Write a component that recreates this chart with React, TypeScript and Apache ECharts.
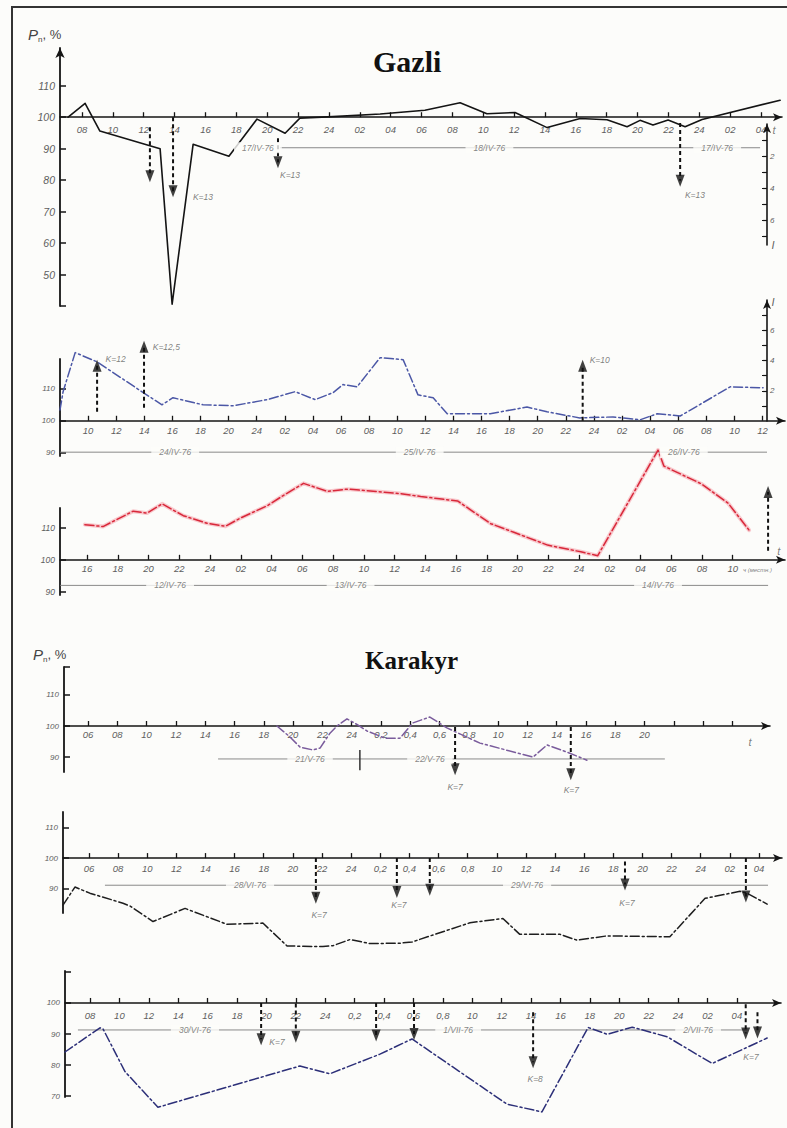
import React, { useEffect, useRef } from "react";
import * as echarts from "echarts";

// ================= DATA =================
// x values are positions on each panel's time axis, in tick steps (tick i = label i)

// ---- Gazli, panel 1 (black) ----
const g1Ticks = ["08","10","12","14","16","18","20","22","24","02","04","06","08","10","12","14","16","18","20","22","24","02","04"];
const g1Time = [-0.45, 0.10, 0.58, 2.53, 2.92, 3.60, 4.76, 5.67, 6.58, 7.06, 8.13, 9.66, 11.11, 12.25, 13.12, 14.03, 15.07, 16.14, 17.01, 17.66, 18.08, 18.5, 18.99, 19.54, 20.09, 22.62];
const g1P = [100, 104.4, 95.6, 90, 40.6, 91.4, 87.6, 99.4, 94.9, 99.7, 100.2, 101.0, 102.2, 104.6, 101.1, 101.5, 96.7, 99.6, 99.2, 97.0, 99.0, 97.5, 99.1, 97.0, 99.3, 105.4];
const g1YTicks = [40, 50, 60, 70, 80, 90, 100, 110];
const g1YLabels = [50, 60, 70, 80, 90, 100, 110];
const g1ITicks = [1, 2, 3, 4, 5, 6, 7];
const g1ILabels = [2, 4, 6];
const g1ArrowT = [2.2, 2.95, 6.35, 19.38];
const g1ArrowFrom = [96.8, 100, 93.3, 98.2];
const g1ArrowHead = [81.2, 76.5, 85.7, 79.8];
const g1K = ["K=13", "K=13", "K=13"];
const g1KT = [3.92, 6.74, 19.86];
const g1KP = [74.6, 81.6, 75.4];
const g1Dates = ["17/IV-76", "18/IV-76", "17/IV-76"];
const g1DateT = [5.7, 13.2, 20.58];
const g1DateSpan = [6.42, 21.97];
const g1DateP = 90.3;

// ---- Gazli, panel 2 (blue) ----
const g2Ticks = ["10","12","14","16","18","20","24","02","04","06","08","10","12","14","16","18","20","22","24","02","04","06","08","10","12"];
const g2Time = [-1.0, -0.89, -0.46, 0.32, 1.96, 2.63, 3.02, 4.09, 5.16, 6.37, 7.37, 8.08, 8.72, 9.07, 9.57, 10.39, 11.21, 11.74, 12.28, 12.78, 13.35, 14.31, 15.62, 16.33, 17.5, 18.68, 19.64, 20.25, 21.07, 22.85, 24.02];
const g2P = [103.4, 109.1, 121.3, 118.4, 108.8, 105, 107.2, 105, 104.7, 106.6, 109.1, 106.6, 108.8, 111.3, 110.6, 119.7, 119.1, 108.1, 107.2, 102.2, 102.2, 102.2, 104.3, 102.8, 100.9, 101.2, 100.3, 102.2, 101.5, 110.6, 110.3];
const g2YTicks = [90, 100, 110];
const g2ITicks = [1, 2, 3, 4, 5, 6, 7];
const g2ILabels = [2, 4, 6];
const g2ArrowT = [0.32, 1.99, 17.6];
const g2ArrowFrom = [102.8, 104.1, 100];
const g2ArrowHead = [117.2, 123.1, 117.2];
const g2K = ["K=12", "K=12,5", "K=10"];
const g2KT = [0.62, 2.3, 17.85];
const g2KP = [119.4, 123.1, 119];
const g2Dates = ["24/IV-76", "25/IV-76", "26/IV-76"];
const g2DateT = [3.1, 11.8, 21.2];
const g2DateSpan = [-1.0, 24.16];
const g2DateP = 90.2;

// ---- Gazli, panel 3 (red) ----
const g3Ticks = ["16","18","20","22","24","02","04","06","08","10","12","14","16","18","20","22","24","02","04","06","08","10"];
const g3Time = [-0.07, 0.52, 1.50, 1.95, 2.44, 3.13, 3.91, 4.5, 4.98, 5.86, 6.38, 7.04, 7.82, 8.47, 9.12, 10.2, 10.85, 12.05, 13.13, 13.88, 14.98, 16.06, 16.61, 18.57, 18.76, 19.97, 20.85, 21.53];
const g3P = [111.0, 110.4, 115.2, 114.6, 117.5, 113.8, 111.4, 110.5, 113, 116.9, 120.1, 123.9, 121.4, 122.1, 121.6, 120.7, 119.8, 118.4, 111.3, 108.6, 104.6, 102.5, 101.3, 134.3, 129.3, 123.8, 117.7, 109.3];
const g3YTicks = [90, 100, 110];
const g3ArrowT = [22.15];
const g3ArrowFrom = [102.8];
const g3ArrowHead = [121.2];
const g3Dates = ["12/IV-76", "13/IV-76", "14/IV-76"];
const g3DateT = [2.7, 8.57, 18.57];
const g3DateSpan = [-0.88, 22.15];
const g3DateP = 92;

// ---- Karakyr, panel 4 (purple) ----
const k1Ticks = ["06","08","10","12","14","16","18","20","22","24","0,2","0,4","0,6","0,8","10","12","14","16","18","20","","",""];
const k1Time = [6.45, 6.89, 7.24, 7.68, 7.92, 8.26, 8.5, 8.84, 9.22, 9.52, 10.14, 10.65, 11.09, 11.67, 12.25, 13.38, 15.19, 15.67, 16.35, 17.03];
const k1P = [100, 96.5, 93.2, 92.3, 92.9, 97.7, 100, 102.3, 100.3, 98.4, 96.1, 96.1, 101, 102.9, 99.4, 94.5, 90, 93.9, 91.6, 89];
const k1YTicks = [90, 100, 110, 119];
const k1YLabels = [90, 100, 110];
const k1ArrowT = [12.53, 16.48];
const k1ArrowFrom = [99.7, 99.7];
const k1ArrowHead = [86.1, 84.5];
const k1K = ["K=7", "K=7"];
const k1KT = [12.53, 16.5];
const k1KP = [80.3, 79.4];
const k1Dates = ["21/V-76", "22/V-76"];
const k1DateT = [7.58, 11.67];
const k1DateSpan = [4.44, 19.69];
const k1DateP = 89.4;
const k1DividerT = 9.28;
const k1DividerP = [92.3, 85.8];

// ---- Karakyr, panel 5 (black) ----
const k2Ticks = ["06","08","10","12","14","16","18","20","22","24","0,2","0,4","0,6","0,8","10","12","14","16","18","20","22","24","02","04"];
const k2Time = [-0.89, -0.48, 0.03, 1.17, 1.41, 2.2, 3.3, 4.74, 5.97, 6.8, 8.03, 8.38, 8.96, 9.64, 10.67, 11.09, 11.81, 13.08, 14.21, 14.79, 16.17, 16.75, 17.78, 19.94, 21.15, 22.35, 22.59, 23.28];
const k2P = [84.6, 90.5, 88.5, 85.2, 84.3, 79.2, 83.5, 78.3, 78.7, 71.2, 71, 71.3, 73.3, 72, 72.1, 72.5, 74.8, 78.8, 80.2, 75, 75, 73.1, 74.5, 74.2, 86.8, 89.1, 88.5, 84.9];
const k2YTicks = [90, 100, 110];
const k2ArrowT = [7.79, 10.57, 11.7, 18.4, 22.55];
const k2ArrowFrom = [100, 100, 100, 98.9, 100];
const k2ArrowHead = [87.0, 88.9, 89.6, 91.3, 87.4];
const k2K = ["K=7", "K=7", "K=7"];
const k2KT = [7.9, 10.64, 18.47];
const k2KP = [81.5, 84.6, 85.4];
const k2Dates = ["28/VI-76", "29/VI-76"];
const k2DateT = [5.53, 15.04];
const k2DateSpan = [0.55, 23.31];
const k2DateP = 91.1;

// ---- Karakyr, panel 6 (navy) ----
const k3Ticks = ["08","10","12","14","16","18","20","22","24","0,2","0,4","0,6","0,8","10","12","14","16","18","20","22","24","02","04"];
const k3Time = [-0.85, 0.34, 0.44, 1.19, 2.31, 7.14, 8.16, 9.86, 10.95, 14.18, 15.37, 16.94, 17.59, 18.44, 19.63, 21.16, 23.03];
const k3P = [84.2, 92, 91.7, 77.9, 66.4, 79.7, 77.2, 83.5, 88.4, 67.4, 64.9, 92.1, 89.9, 92.2, 89.1, 80.5, 88.7];
const k3YTicks = [70, 80, 90, 100, 110];
const k3YLabels = [70, 80, 90, 100];
const k3ArrowT = [5.82, 7.0, 9.73, 11.02, 15.07, 22.3, 22.7];
const k3ArrowFrom = [100, 99.8, 100, 100, 97, 99.6, 97];
const k3ArrowHead = [88.3, 89.1, 89.5, 90, 80.9, 90.2, 90.5];
const k3K = ["K=7", "K=8", "K=7"];
const k3KT = [6.36, 15.14, 22.48];
const k3KP = [87.3, 75.5, 82.5];
const k3Dates = ["30/VI-76", "1/VII-76", "2/VII-76"];
const k3DateT = [3.57, 12.52, 20.68];
const k3DateSpan = [-0.41, 22.35];
const k3DateP = 91.3;

// ================= STYLE / HELPERS =================
const PAGE_BG = "#fcfcfa";
const AXIS = "#151515";
const TXT = "#5e5e5e";
const SANS = "Liberation Sans";
const DASHDOT = [9, 3, 2, 3];

const rel = (arr: number[]) => arr.map((v) => v - 100);

type GridBox = { left: number; top: number; width: number; height: number };

function timeAxis(gi: number, min: number, max: number, labels: string[], margin: number, grid: GridBox, pMin: number, pMax: number) {
  const idx = labels.map((_, i) => i);
  // axis sits on the P = 100 line: shift up from the grid's bottom edge
  const offset = -grid.height * ((100 - pMin) / (pMax - pMin));
  return {
    type: "value",
    gridIndex: gi,
    min,
    max,
    position: "bottom",
    offset,
    axisLine: { show: true, onZero: false, symbol: ["none", "arrow"], symbolSize: [6, 9], lineStyle: { color: AXIS, width: 1.6 } },
    axisTick: { show: true, inside: true, length: 5, customValues: idx, lineStyle: { color: AXIS, width: 1.3 } },
    axisLabel: {
      show: true,
      customValues: idx,
      formatter: (v: number) => labels[Math.round(v)] ?? "",
      color: TXT,
      fontSize: 9.5,
      fontStyle: "italic",
      fontFamily: SANS,
      margin,
    },
    splitLine: { show: false },
  };
}

function hiddenX(gi: number) {
  return { type: "value", gridIndex: gi, min: 0, max: 1, show: false };
}

function pAxis(gi: number, pMin: number, pMax: number, ticks: number[], labels: number[], arrow: boolean, fs: number) {
  return {
    type: "value",
    gridIndex: gi,
    min: pMin - 100,
    max: pMax - 100,
    axisLine: {
      show: true,
      onZero: false,
      symbol: arrow ? ["none", "arrow"] : "none",
      symbolSize: [7, 10],
      lineStyle: { color: AXIS, width: 1.8 },
    },
    axisTick: { show: true, inside: true, length: 6, customValues: rel(ticks), lineStyle: { color: AXIS, width: 1.5 } },
    axisLabel: {
      show: true,
      customValues: rel(labels),
      formatter: (v: number) => String(Math.round(v + 100)),
      color: TXT,
      fontSize: fs,
      fontStyle: "italic",
      fontFamily: SANS,
      margin: 5,
    },
    splitLine: { show: false },
  };
}

function iAxis(gi: number, max: number, inverse: boolean, ticks: number[], labels: number[]) {
  return {
    type: "value",
    gridIndex: gi,
    position: "right",
    min: 0,
    max,
    inverse,
    axisLine: { show: true, onZero: false, symbol: ["none", "arrow"], symbolSize: [6, 9], lineStyle: { color: AXIS, width: 1.6 } },
    axisTick: { show: true, inside: true, length: 5, customValues: ticks, lineStyle: { color: AXIS, width: 1.2 } },
    axisLabel: { show: true, customValues: labels, color: TXT, fontSize: 8, fontStyle: "italic", fontFamily: SANS, margin: 3 },
    splitLine: { show: false },
  };
}

function dataLine(gi: number, T: number[], P: number[], color: string, type: any, width: number, z = 3) {
  return {
    type: "line",
    xAxisIndex: gi,
    yAxisIndex: gi,
    data: T.map((t, i) => [t, P[i] - 100]),
    symbol: "none",
    showSymbol: false,
    clip: false,
    silent: true,
    z,
    lineStyle: { color, type, width, cap: "round", join: "round" },
  };
}

function arrowSeries(gi: number, T: number[], from: number[], head: number[]) {
  const out: any[] = T.map((t, i) => ({
    type: "line",
    xAxisIndex: gi,
    yAxisIndex: gi,
    data: [[t, from[i] - 100], [t, head[i] - 100]],
    symbol: "none",
    clip: false,
    silent: true,
    z: 4,
    lineStyle: { color: "#111", width: 2, type: [4, 3] },
  }));
  out.push({
    type: "scatter",
    xAxisIndex: gi,
    yAxisIndex: gi,
    clip: false,
    silent: true,
    z: 4,
    symbol: "triangle",
    symbolSize: [9, 12],
    itemStyle: { color: "#111" },
    data: T.map((t, i) => ({ value: [t, head[i] - 100], symbolRotate: head[i] > from[i] ? 0 : 180 })),
  });
  return out;
}

function textSeries(gi: number, names: string[], xs: number[], ys: number[], label: any = {}) {
  return {
    type: "scatter",
    xAxisIndex: gi,
    yAxisIndex: gi,
    clip: false,
    silent: true,
    z: 6,
    symbolSize: 0.1,
    itemStyle: { color: "rgba(0,0,0,0)" },
    data: names.map((n, i) => ({ name: n, value: [xs[i], ys[i]] })),
    label: {
      show: true,
      position: "inside",
      formatter: "{b}",
      color: TXT,
      fontSize: 8.5,
      fontStyle: "italic",
      fontFamily: SANS,
      ...label,
    },
  };
}

function dateSeries(gi: number, span: number[], p: number, names: string[], T: number[]) {
  return [
    {
      type: "line",
      xAxisIndex: gi,
      yAxisIndex: gi,
      data: [[span[0], p - 100], [span[1], p - 100]],
      symbol: "none",
      clip: false,
      silent: true,
      z: 2,
      lineStyle: { color: "#7d7d7d", width: 0.9 },
    },
    textSeries(gi, names, T, T.map(() => p - 100), { backgroundColor: PAGE_BG, padding: [1, 8], color: "#666" }),
  ];
}

function buildOption() {
  const boxes: GridBox[] = [
    { left: 60, top: 48, width: 722, height: 258 }, // 0 Gazli 1
    { left: 766, top: 124, width: 1, height: 121 }, // 1 Gazli 1, I axis
    { left: 60, top: 359, width: 725, height: 97 }, // 2 Gazli 2
    { left: 766, top: 300, width: 1, height: 121 }, // 3 Gazli 2, I axis
    { left: 60, top: 508, width: 725, height: 87 }, // 4 Gazli 3
    { left: 64, top: 667, width: 706, height: 105 }, // 5 Karakyr 1
    { left: 63, top: 812, width: 719, height: 101 }, // 6 Karakyr 2
    { left: 65, top: 971, width: 716, height: 126 }, // 7 Karakyr 3
  ];
  const grids = boxes.map((g) => ({ ...g, containLabel: false, outerBoundsMode: "none" }));

  const pr: Record<number, [number, number]> = {
    0: [40, 122],
    2: [89, 119.3],
    4: [89, 116.2],
    5: [85.2, 119],
    6: [82, 115.1],
    7: [69.7, 110.3],
  };

  const xAxis = [
    timeAxis(0, -0.713, 22.68, g1Ticks, 7, boxes[0], ...pr[0]),
    hiddenX(1),
    timeAxis(2, -1.0, 24.8, g2Ticks, 5, boxes[2], ...pr[2]),
    hiddenX(3),
    timeAxis(4, -0.88, 22.7, g3Ticks, 4, boxes[4], ...pr[4]),
    timeAxis(5, -0.82, 23.28, k1Ticks, 3, boxes[5], ...pr[5]),
    timeAxis(6, -0.89, 23.79, k2Ticks, 5, boxes[6], ...pr[6]),
    timeAxis(7, -0.85, 23.5, k3Ticks, 8, boxes[7], ...pr[7]),
  ];

  const yAxis = [
    pAxis(0, pr[0][0], pr[0][1], g1YTicks, g1YLabels, true, 10.5),
    iAxis(1, 7.56, true, g1ITicks, g1ILabels),
    pAxis(2, pr[2][0], pr[2][1], g2YTicks, g2YTicks, false, 8),
    iAxis(3, 8, false, g2ITicks, g2ILabels),
    pAxis(4, pr[4][0], pr[4][1], g3YTicks, g3YTicks, false, 8.5),
    pAxis(5, pr[5][0], pr[5][1], k1YTicks, k1YLabels, false, 8),
    pAxis(6, pr[6][0], pr[6][1], k2YTicks, k2YTicks, false, 8),
    pAxis(7, pr[7][0], pr[7][1], k3YTicks, k3YLabels, false, 8),
  ];

  const series: any[] = [
    // Gazli 1
    dataLine(0, g1Time, g1P, "#141414", "solid", 1.6),
    ...arrowSeries(0, g1ArrowT, g1ArrowFrom, g1ArrowHead),
    textSeries(0, g1K, g1KT, rel(g1KP)),
    ...dateSeries(0, g1DateSpan, g1DateP, g1Dates, g1DateT),
    textSeries(0, ["t"], [22.42], [-4], { fontSize: 11 }),
    textSeries(1, ["I"], [0.5], [7.56], { position: "right", distance: 5, fontSize: 11, color: "#333" }),
    // Gazli 2
    dataLine(2, g2Time, g2P, "#4b57a6", DASHDOT, 1.5),
    ...arrowSeries(2, g2ArrowT, g2ArrowFrom, g2ArrowHead),
    textSeries(2, g2K, g2KT, rel(g2KP), { align: "left" }),
    ...dateSeries(2, g2DateSpan, g2DateP, g2Dates, g2DateT),
    textSeries(3, ["I"], [0.5], [7.9], { position: "right", distance: 5, fontSize: 11, color: "#333" }),
    // Gazli 3
    dataLine(4, g3Time, g3P, "rgba(245,140,150,0.45)", "solid", 4, 2),
    dataLine(4, g3Time, g3P, "#d8283a", DASHDOT, 1.5),
    ...arrowSeries(4, g3ArrowT, g3ArrowFrom, g3ArrowHead),
    ...dateSeries(4, g3DateSpan, g3DateP, g3Dates, g3DateT),
    textSeries(4, ["t"], [22.5], [2.8], { fontSize: 11 }),
    textSeries(4, ["ч (местн.)"], [21.33], [-3.1], { align: "left", fontSize: 6 }),
    // Karakyr 1
    dataLine(5, k1Time, k1P, "#7a5c9c", DASHDOT, 1.5),
    ...arrowSeries(5, k1ArrowT, k1ArrowFrom, k1ArrowHead),
    textSeries(5, k1K, k1KT, rel(k1KP)),
    ...dateSeries(5, k1DateSpan, k1DateP, k1Dates, k1DateT),
    {
      type: "line",
      xAxisIndex: 5,
      yAxisIndex: 5,
      data: k1DividerP.map((p) => [k1DividerT, p - 100]),
      symbol: "none",
      clip: false,
      silent: true,
      z: 3,
      lineStyle: { color: "#333", width: 1.5 },
    },
    textSeries(5, ["t"], [22.6], [-5.2], { fontSize: 11 }),
    // Karakyr 2
    dataLine(6, k2Time, k2P, "#1e1e1e", DASHDOT, 1.5),
    ...arrowSeries(6, k2ArrowT, k2ArrowFrom, k2ArrowHead),
    textSeries(6, k2K, k2KT, rel(k2KP)),
    ...dateSeries(6, k2DateSpan, k2DateP, k2Dates, k2DateT),
    // Karakyr 3
    dataLine(7, k3Time, k3P, "#2c2f78", DASHDOT, 1.5),
    ...arrowSeries(7, k3ArrowT, k3ArrowFrom, k3ArrowHead),
    textSeries(7, k3K, k3KT, rel(k3KP)),
    ...dateSeries(7, k3DateSpan, k3DateP, k3Dates, k3DateT),
  ];

  const pLabelRich = {
    p: { fontSize: 15, fontStyle: "italic", fontFamily: SANS, fill: "#444" },
    s: { fontSize: 8, fontFamily: SANS, fill: "#444", padding: [9, 0, 0, 0] },
    c: { fontSize: 13, fontFamily: SANS, fill: "#444" },
  };

  return {
    animation: false,
    backgroundColor: PAGE_BG,
    textStyle: { fontFamily: SANS },
    title: [
      { text: "Gazli", left: 373, top: 46, padding: 0, textStyle: { fontFamily: "Liberation Serif", fontWeight: "bold", fontSize: 30, color: "#111" } },
      { text: "Karakyr", left: 365, top: 648, padding: 0, textStyle: { fontFamily: "Liberation Serif", fontWeight: "bold", fontSize: 25, color: "#111" } },
    ],
    graphic: [
      { type: "polyline", shape: { points: [[12, 1128], [12, 7], [787, 7]] }, style: { stroke: "#333", lineWidth: 2, fill: null }, silent: true },
      { type: "text", left: 28, top: 27, style: { text: "{p|P}{s|n}{c|, %}", rich: pLabelRich }, silent: true },
      { type: "text", left: 33, top: 647, style: { text: "{p|P}{s|n}{c|, %}", rich: pLabelRich }, silent: true },
    ],
    grid: grids,
    xAxis,
    yAxis,
    series,
  };
}

export default function App() {
  const ref = useRef<HTMLDivElement>(null);
  useEffect(() => {
    if (!ref.current) return;
    const chart = echarts.init(ref.current, undefined, { renderer: "svg" });
    chart.setOption(buildOption() as any);
    return () => chart.dispose();
  }, []);
  return (
    <div
      ref={ref}
      style={{ position: "absolute", left: 0, top: 0, width: 787, height: 1128, background: PAGE_BG }}
    />
  );
}
